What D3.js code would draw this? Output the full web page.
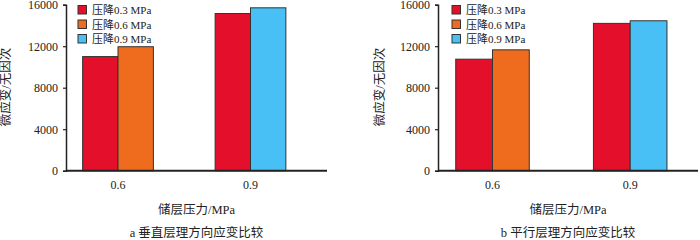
<!DOCTYPE html>
<html><head><meta charset="utf-8">
<script src="https://cdn.jsdelivr.net/npm/d3@7"></script>
<style>
html,body{margin:0;padding:0;background:#fff;}
svg{display:block;}
text{font-family:"Liberation Serif","Noto Sans CJK SC",serif;fill:#222;}
</style></head>
<body><svg id="c" width="700" height="240"></svg>
<script>
const categories = ["0.6", "0.9"];
const seriesNames = ["压降0.3 MPa", "压降0.6 MPa", "压降0.9 MPa"];
const seriesColors = ["#e30f2b", "#ef6c1f", "#48c0f6"];
const yTicks = [0, 4000, 8000, 12000, 16000];
// values[category][series], null = not present
const valuesA = [[11000, 11950, null], [15150, null, 15700]];
const valuesB = [[10750, 11650, null], [14200, null, 14450]];
const yTitle = "微应变/无因次";
const xTitle = "储层压力/MPa";
const captionA = "a  垂直层理方向应变比较";
const captionB = "b  平行层理方向应变比较";

const svg = d3.select("#c");

function panel(cfg) {
  const g = svg.append("g");
  const y = d3.scaleLinear().domain([0, 16000]).range([170.7, 4.7]);
  const x = d3.scaleBand().domain(categories).range(cfg.band).padding(0);
  const bw = x.step() * 0.267;

  // bars
  cfg.values.forEach((row, ci) => {
    const present = row.map((v, si) => ({v, si})).filter(d => d.v != null);
    const cx = x(categories[ci]) + x.bandwidth() / 2;
    const start = cx - present.length * bw / 2;
    g.selectAll(null).data(present).enter().append("rect")
      .attr("x", (d, i) => start + i * bw)
      .attr("y", d => y(d.v))
      .attr("width", bw)
      .attr("height", d => y(0) - y(d.v))
      .attr("fill", d => seriesColors[d.si])
      .attr("stroke", "#333")
      .attr("stroke-width", 1);
  });

  // y axis
  const ya = g.append("g").attr("transform", `translate(${cfg.left},0)`)
    .call(d3.axisLeft(y).tickValues(yTicks).tickSize(3).tickPadding(5).tickFormat(d3.format("d")));
  ya.select(".domain").attr("stroke", "#222").attr("stroke-width", 1.5);
  ya.selectAll(".tick line").attr("stroke", "#222").attr("stroke-width", 1.2);
  ya.selectAll(".tick text").attr("font-size", 12).attr("font-family", "Liberation Serif").attr("fill", "#222");

  // x axis line
  g.append("line").attr("x1", cfg.left).attr("x2", cfg.right)
    .attr("y1", y(0)).attr("y2", y(0)).attr("stroke", "#222").attr("stroke-width", 2);
  // category labels
  g.selectAll(null).data(categories).enter().append("text")
    .attr("x", d => x(d) + x.bandwidth() / 2).attr("y", 189)
    .attr("text-anchor", "middle").attr("font-size", 12).text(d => d);

  // titles
  const mid = (cfg.left + cfg.right) / 2;
  g.append("text").attr("x", mid).attr("y", 214).attr("text-anchor", "middle")
    .attr("font-size", 12.5).text(xTitle);
  g.append("text").attr("x", mid).attr("y", 237).attr("text-anchor", "middle")
    .attr("font-size", 12.5).text(cfg.caption);
  g.append("text").attr("transform", `translate(${cfg.ytx},87) rotate(-90)`)
    .attr("text-anchor", "middle").attr("dominant-baseline", "central")
    .attr("font-size", 12.5).text(yTitle);

  // legend
  const lg = g.append("g").attr("transform", `translate(${cfg.legX},0)`);
  seriesNames.forEach((n, i) => {
    const cy = 10 + i * 14.5;
    lg.append("rect").attr("x", 0).attr("y", cy - 4.5).attr("width", 8.5).attr("height", 8.5)
      .attr("fill", seriesColors[i]).attr("stroke", "#333").attr("stroke-width", 1);
    lg.append("text").attr("x", 14).attr("y", cy).attr("dominant-baseline", "central")
      .attr("font-size", 11).text(n);
  });
}

panel({values: valuesA, left: 66, right: 327, band: [51.75, 316.75], caption: captionA, ytx: 6, legX: 78});
panel({values: valuesB, left: 438, right: 698, band: [423.65, 699.05], caption: captionB, ytx: 380, legX: 452});
</script></body></html>
